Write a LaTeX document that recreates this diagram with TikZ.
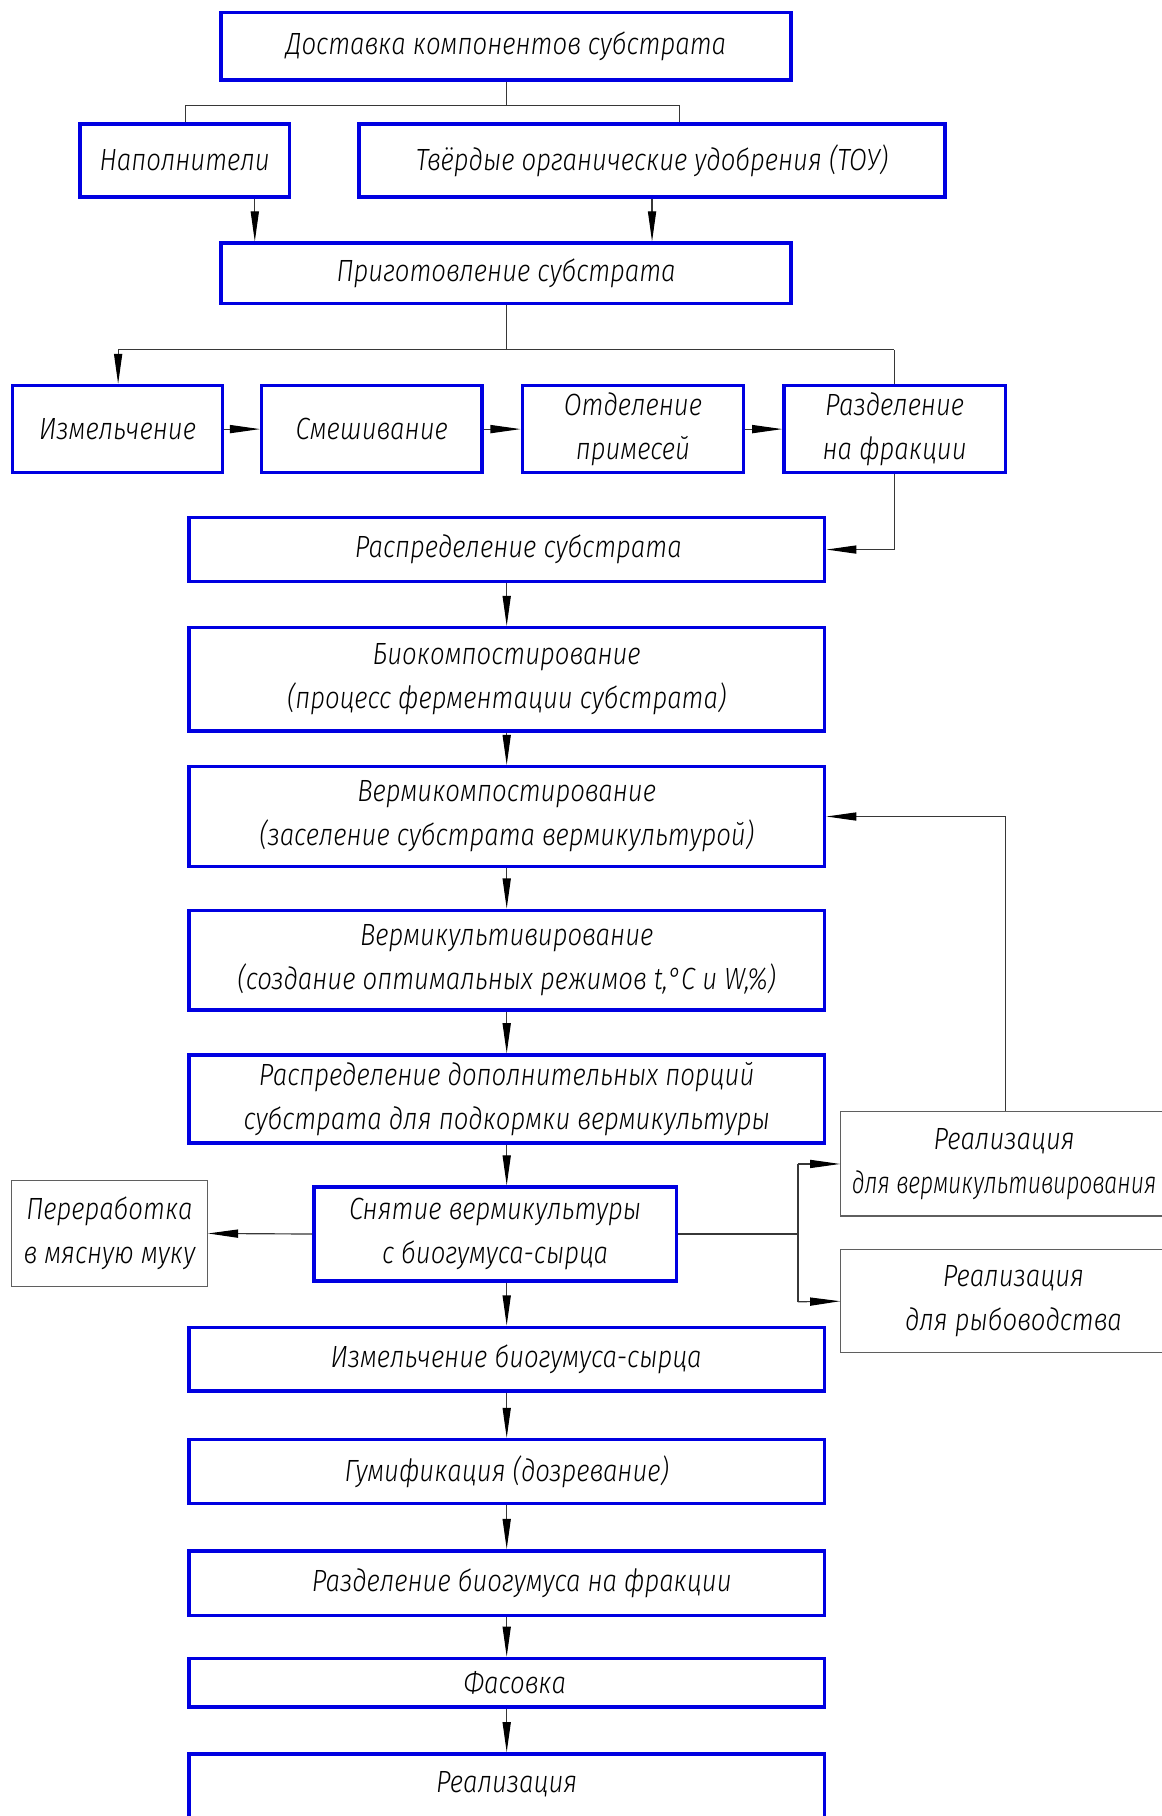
\documentclass[tikz,border=0pt]{standalone}
\usepackage{fontspec}
\setmainfont{Fira Sans}[UprightFont={* Light}, ItalicFont={* Light Italic}, FakeStretch=0.84]
\usetikzlibrary{arrows.meta}
\definecolor{boxblue}{RGB}{0,0,225}
\definecolor{linegray}{RGB}{55,55,55}
\definecolor{boxgray}{RGB}{95,95,95}
\newcommand{\gostfont}{\fontsize{26.5}{38}\selectfont\itshape}
\begin{document}
\begin{tikzpicture}[x=1pt,y=-1pt,
  bluebox/.style={draw=boxblue, line width=3pt, inner sep=0pt, align=center, font=\gostfont},
  graybox/.style={draw=boxgray, line width=1.1pt, inner sep=0pt, align=center, font=\gostfont},
  conn/.style={draw=linegray, line width=1pt},
  arr/.style={conn, -{Triangle[length=26pt,width=7pt,fill=black,color=black]}}]
\useasboundingbox[fill=white] (0,0) rectangle (1003,1568);
% top
\node[bluebox, minimum width=492pt, minimum height=58pt] (b1) at (437,40) {Доставка компонентов субстрата};
\node[bluebox, minimum width=181pt, minimum height=63pt] (nap) at (159.5,138.5) {Наполнители};
\node[bluebox, minimum width=506pt, minimum height=63pt] (tou) at (563,138.5) {Твёрдые органические удобрения (ТОУ)};
\node[bluebox, minimum width=492pt, minimum height=52pt] (prig) at (437,236) {Приготовление субстрата};
% row
\node[bluebox, minimum width=181pt, minimum height=75pt] (izm) at (101.5,370.5) {Измельчение};
\node[bluebox, minimum width=190pt, minimum height=75pt] (sme) at (321,370.5) {Смешивание};
\node[bluebox, minimum width=191pt, minimum height=75pt] (otd) at (546.5,370.5) {Отделение\\примесей};
\node[bluebox, minimum width=191pt, minimum height=75pt] (raz) at (772.5,370.5) {Разделение\\на фракции};
% main column
\node[bluebox, minimum width=549pt, minimum height=55pt] (rasp) at (437.5,474.5) {\hspace*{20pt}Распределение субстрата};
\node[bluebox, minimum width=549pt, minimum height=89pt] (bio) at (437.5,586.5) {Биокомпостирование\\(процесс ферментации субстрата)};
\node[bluebox, minimum width=549pt, minimum height=86pt] (verm) at (437.5,705) {Вермикомпостирование\\(заселение субстрата вермикультурой)};
\node[bluebox, minimum width=549pt, minimum height=86pt] (vkult) at (437.5,829) {Вермикультивирование\\(создание оптимальных режимов t,°C и W,\%)};
\node[bluebox, minimum width=549pt, minimum height=76pt] (dop) at (437.5,949) {Распределение дополнительных порций\\субстрата для подкормки вермикультуры};
\node[bluebox, minimum width=313pt, minimum height=81pt] (snyat) at (427.5,1065.5) {Снятие вермикультуры\\с биогумуса-сырца};
\node[graybox, minimum width=169pt, minimum height=92pt] (pere) at (94.5,1065) {Переработка\\в мясную муку};
\node[graybox, minimum width=282pt, minimum height=90pt] (real1) at (867,1005) {Реализация\\\scalebox{0.89}[1]{для вермикультивирования}};
\node[graybox, minimum width=298pt, minimum height=89pt] (real2) at (875,1123.5) {Реализация\\для рыбоводства};
\node[bluebox, minimum width=549pt, minimum height=55pt] (izmb) at (437.5,1173.5) {\hspace*{16pt}Измельчение биогумуса-сырца};
\node[bluebox, minimum width=549pt, minimum height=55pt] (gum) at (437.5,1270.5) {Гумификация (дозревание)};
\node[bluebox, minimum width=549pt, minimum height=56pt] (razb) at (437.5,1367) {\hspace*{26pt}Разделение биогумуса на фракции};
\node[bluebox, minimum width=549pt, minimum height=42pt] (fas) at (437.5,1453) {\hspace*{14pt}Фасовка};
\node[bluebox, minimum width=549pt, minimum height=90pt, anchor=north, text depth=42pt] (real) at (437.5,1513) {Реализация};
% connectors
\coordinate (s1) at (437,91);
\coordinate (s1l) at (160,91);
\coordinate (s1r) at (587,91);
\draw[conn] (b1.south) -- (s1);
\draw[conn] (s1l) -- (s1r);
\draw[conn] (s1l) -- (s1l |- nap.north);
\draw[conn] (s1r) -- (s1r |- tou.north);
\draw[arr] (nap.south -| 220,0) -- (prig.north -| 220,0);
\draw[arr] (tou.south) -- (prig.north -| tou.south);
\coordinate (s2) at (437,302);
\coordinate (s2l) at (102,302);
\coordinate (s2r) at (772,302);
\draw[conn] (prig.south) -- (s2);
\draw[conn] (s2l) -- (s2r);
\draw[arr] (s2l) -- (s2l |- izm.north);
\draw[conn] (s2r) -- (s2r |- raz.north);
\draw[arr] (izm.east) -- (sme.west);
\draw[arr] (sme.east) -- (otd.west);
\draw[arr] (otd.east) -- (raz.west);
\draw[arr] (raz.south -| 772,0) |- (rasp.east);
\draw[arr] (rasp.south) -- (bio.north);
\draw[arr] (bio.south) -- (verm.north);
\draw[arr] (verm.south) -- (vkult.north);
\draw[arr] (vkult.south) -- (dop.north);
\draw[arr] (dop.south) -- (snyat.north -| dop.south);
\draw[arr] (snyat.west) -- (pere.east);
\coordinate (jn) at (689,1065.5);
\coordinate (jt) at (689,1005);
\coordinate (jb) at (689,1124);
\draw[conn] (snyat.east) -- (jn);
\draw[conn] (jt) -- (jb);
\draw[arr] (jt) -- (real1.west);
\draw[arr] (jb) -- (real2.west);
\draw[arr] (real1.north -| 868,0) |- (verm.east);
\draw[arr] (snyat.south -| izmb.north) -- (izmb.north);
\draw[arr] (izmb.south) -- (gum.north);
\draw[arr] (gum.south) -- (razb.north);
\draw[arr] (razb.south) -- (fas.north);
\draw[arr] (fas.south) -- (real.north);
\end{tikzpicture}
\end{document}
